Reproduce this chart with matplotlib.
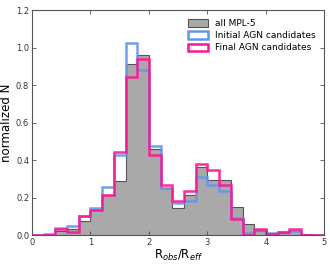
import numpy as np
import matplotlib
matplotlib.use("Agg")
import matplotlib.pyplot as plt
from matplotlib.patches import Patch

edges = np.round(np.arange(0, 5.0001, 0.2), 2)
all_mpl5 = [0.0, 0.004, 0.023, 0.035, 0.077, 0.133, 0.212, 0.287, 0.912, 0.963,
            0.458, 0.25, 0.145, 0.215, 0.363, 0.293, 0.293, 0.148, 0.059, 0.023,
            0.014, 0.014, 0.02, 0.009, 0.0]
initial = [0.0, 0.007, 0.039, 0.051, 0.1, 0.147, 0.255, 0.43, 1.024, 0.878,
           0.477, 0.25, 0.17, 0.183, 0.31, 0.265, 0.235, 0.093, 0.012, 0.028,
           0.01, 0.015, 0.025, 0.0, 0.0]
final = [0.0, 0.0, 0.032, 0.018, 0.1, 0.137, 0.212, 0.443, 0.843, 0.94,
         0.43, 0.265, 0.185, 0.233, 0.38, 0.345, 0.265, 0.089, 0.0, 0.032,
         0.004, 0.015, 0.033, 0.0, 0.0]

fig = plt.figure(figsize=(3.3, 2.64), dpi=100)
ax = fig.add_axes([0.097, 0.109, 0.886, 0.853])

ax.stairs(all_mpl5, edges, fill=True, facecolor="#a9a9a9", edgecolor="none")
ax.stairs(all_mpl5, edges, color="#555555", lw=0.8)
ax.stairs(initial, edges, color="#6495ED", lw=1.8, alpha=0.9)
ax.stairs(final, edges, color="#FF1493", lw=1.8, alpha=0.9)

ax.set_xlim(0, 5)
ax.set_ylim(0, 1.2)
ax.set_yticks(np.arange(0, 1.21, 0.2))
ax.set_xticks([0, 1, 2, 3, 4, 5])
ax.tick_params(direction="in", top=True, right=True, labelsize=6,
               length=3, width=0.5, colors="#333333", pad=2)
for s in ax.spines.values():
    s.set_color("#555555")
    s.set_linewidth(0.8)

ax.set_ylabel("normalized N", fontsize=8.5, labelpad=2)
ax.set_xlabel(r"R$_{obs}$/R$_{eff}$", fontsize=8.5, labelpad=1)

handles = [Patch(facecolor="#a9a9a9", edgecolor="#555555", lw=0.8),
           Patch(facecolor="white", edgecolor="#6495ED", lw=1.8),
           Patch(facecolor="white", edgecolor="#FF1493", lw=1.8)]
ax.legend(handles, ["all MPL-5", "Initial AGN candidates", "Final AGN candidates"],
          loc="upper right", frameon=False, fontsize=6.5, handlelength=2.2,
          handleheight=0.9, labelspacing=0.35, borderaxespad=0.6)

fig.savefig("out.png", dpi=100)
